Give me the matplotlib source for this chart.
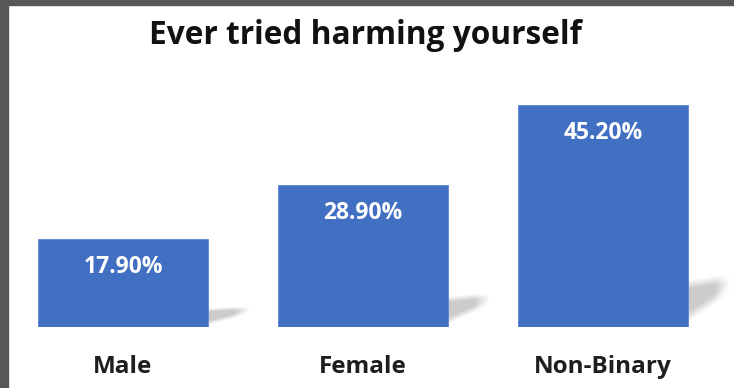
import numpy as np
import matplotlib.pyplot as plt
from matplotlib.patches import Rectangle

categories = ["Male", "Female", "Non-Binary"]
values = [17.9, 28.9, 45.2]
value_labels = ["17.90%", "28.90%", "45.20%"]
title = "Ever tried harming yourself"

W, H = 734, 388
fig = plt.figure(figsize=(W / 100, H / 100), dpi=100, facecolor="white")
ax = fig.add_axes([8 / W, 61 / H, 1 - 8 / W, (327 - 5) / H])
ax.set_facecolor("white")

x = np.arange(len(categories))
bar_w = 0.708
bar_color = "#4170C2"


def ramp(z, w):
    return np.clip(z / w, 0, 1)


# soft skewed drop shadows to the right of the bars
for xi, v in zip(x, values):
    xr = xi + bar_w / 2
    sw = 0.17
    sh = 0.27 * v
    nu, nt = 80, 80
    u = np.linspace(0, 1, nu)[None, :]
    t = np.linspace(0, 1, nt)[:, None]
    t_bot = 0.05 + 0.5 * u
    t_top = 0.78 + 0.12 * u
    a = ramp(t - t_bot, 0.18) * ramp(t_top - t, 0.15) * ramp(1.0 - u, 0.35)
    rgba = np.zeros((nt, nu, 4))
    rgba[..., :3] = 0.6
    rgba[..., 3] = 0.5 * a
    ax.imshow(rgba, extent=[xr - 0.01, xr + sw, 0, sh], origin="lower",
              aspect="auto", interpolation="bilinear", zorder=1)

bars = ax.bar(x, values, width=bar_w, color=bar_color, zorder=2,
              edgecolor="#5b86d0", linewidth=0.6)

for xi, v, lab in zip(x, values, value_labels):
    ax.text(xi, v - 5.6, lab, ha="center", va="center", color="white",
            fontsize=16.5, fontweight="bold", family="Open Sans", zorder=3)

ax.set_xlim(-0.479, 2.546)
ax.set_ylim(0, 65.6)
ax.set_xticks(x)
ax.set_xticklabels(categories, fontsize=17.5, fontweight="bold", family="Open Sans",
                   color="#1e1e1e")
ax.tick_params(axis="x", length=0, pad=20)
ax.set_yticks([])
for s in ax.spines.values():
    s.set_visible(False)

fig.text(365 / W, 1 - 36 / H, title, ha="center", va="center",
         fontsize=22.8, fontweight="bold", family="Open Sans", color="#111111")

# dark frame strips along the top and left edges
fig.patches.append(Rectangle((0, 0), 8 / W, 1, transform=fig.transFigure,
                             color="#575757", zorder=10))
fig.patches.append(Rectangle((0, 1 - 5 / H), 1, 5 / H, transform=fig.transFigure,
                             color="#575757", zorder=10))

fig.savefig("out.png", dpi=100, facecolor="white")
